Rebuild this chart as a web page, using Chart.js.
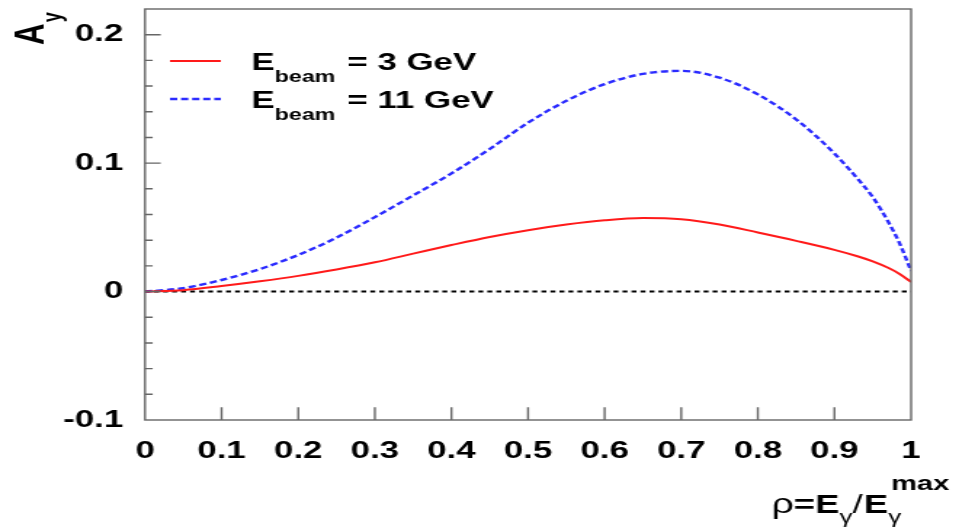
<!doctype html>
<html>
<head>
<title>Beam asymmetry A_y</title>
<script src="https://cdn.jsdelivr.net/npm/chart.js@4.4.0/dist/chart.umd.min.js"></script>
<style>
body { margin: 0; background: #fff; }
#plot { display: block; }
</style>
</head>
<body>
<!-- the original plot is stretched sideways, so the canvas is drawn narrow and widened by css -->
<canvas id="plot" width="660" height="529" style="width:959px;height:529px"></canvas>
<script>

// rho = E_gamma / E_gamma^max
var rho       = [0, 0.05, 0.1, 0.15, 0.2, 0.25, 0.3, 0.35, 0.4, 0.45, 0.5, 0.55, 0.6, 0.65, 0.7, 0.75, 0.8, 0.85, 0.9, 0.93, 0.95, 0.97, 0.985, 1];
var asym3GeV  = [0, 0.0011, 0.0043, 0.008, 0.0122, 0.0172, 0.0228, 0.0295, 0.0362, 0.0425, 0.0478, 0.0522, 0.0555, 0.0572, 0.0563, 0.0522, 0.046, 0.0395, 0.0325, 0.0275, 0.0235, 0.0185, 0.0137, 0.0075];
var asym11GeV = [0, 0.0027, 0.009, 0.0175, 0.0285, 0.042, 0.058, 0.0748, 0.092, 0.111, 0.1315, 0.1485, 0.1615, 0.1695, 0.1718, 0.1665, 0.1535, 0.134, 0.1075, 0.088, 0.0735, 0.0545, 0.0375, 0.016];
var zeroRho   = [0, 1];
var zeroLine  = [0, 0];
var beamLabels = ['3 GeV', '11 GeV'];

var FONT = '"Liberation Sans", Arial, sans-serif';

function points(xs, ys) {
  return xs.map(function(x, i) { return { x: x, y: ys[i] }; });
}

function isMajor(v) {
  return Math.abs(v * 10 - Math.round(v * 10)) < 1e-6;
}

// ROOT style frame, inward ticks, legend and axis titles
var rootFrame = {
  id: 'rootFrame',
  afterDraw: function(chart) {
    var c = chart.ctx, a = chart.chartArea;
    var xs = chart.scales.x, ys = chart.scales.y;
    c.save();
    c.strokeStyle = '#666';
    c.lineWidth = 1.4;
    c.strokeRect(a.left, a.top, a.right - a.left, a.bottom - a.top);

    c.beginPath();
    ys.ticks.forEach(function(t) {
      var py = ys.getPixelForValue(t.value);
      if (py < a.top + 2 || py > a.bottom - 2) return;
      c.moveTo(a.left, py);
      c.lineTo(a.left + (isMajor(t.value) ? 10.8 : 5.3), py);
    });
    xs.ticks.forEach(function(t) {
      var px = xs.getPixelForValue(t.value);
      if (px < a.left + 2 || px > a.right - 2) return;
      c.moveTo(px, a.bottom);
      c.lineTo(px, a.bottom - 12.7);
    });
    c.stroke();

    // legend
    var ds = chart.data.datasets;
    [61, 99].forEach(function(ly, i) {
      c.save();
      c.strokeStyle = ds[i].borderColor;
      c.lineWidth = ds[i].borderWidth;
      c.setLineDash(ds[i].borderDash || []);
      c.beginPath();
      c.moveTo(117, ly);
      c.lineTo(152, ly);
      c.stroke();
      c.restore();

      c.fillStyle = '#000';
      c.textAlign = 'left';
      c.textBaseline = 'alphabetic';
      c.font = 'bold 24px ' + FONT;
      c.fillText('E', 173, ly + 9);
      c.font = 'bold 16px ' + FONT;
      c.fillText('beam', 189, ly + 21);
      c.font = 'bold 24px ' + FONT;
      c.fillText('= ' + beamLabels[i], 239, ly + 9);
    });

    // x title: rho = E_gamma / E_gamma^max
    var x0 = 531, base = 513;
    c.fillStyle = '#000';
    c.font = '27px ' + FONT;
    c.fillText('ρ', x0, base);
    x0 += c.measureText('ρ').width;
    c.font = 'bold 25px ' + FONT;
    c.fillText('=E', x0, base);
    x0 += c.measureText('=E').width;
    c.font = '18px ' + FONT;
    c.fillText('γ', x0, base + 10);
    x0 += c.measureText('γ').width;
    c.font = '25px ' + FONT;
    c.fillText('/', x0, base);
    x0 += c.measureText('/').width + 1;
    c.font = 'bold 25px ' + FONT;
    c.fillText('E', x0, base);
    x0 += c.measureText('E').width;
    c.font = '18px ' + FONT;
    c.fillText('γ', x0, base + 10);
    c.font = 'bold 20px ' + FONT;
    c.fillText('max', x0 + 2, base - 23);

    // y title: A_y, rotated
    c.translate(30, 45);
    c.rotate(-Math.PI / 2);
    c.font = 'bold 30px ' + FONT;
    c.fillText('A', 0, 0);
    var aw = c.measureText('A').width;
    c.font = 'bold 18px ' + FONT;
    c.fillText('y', aw + 1, 12);
    c.restore();
  }
};

new Chart(document.getElementById('plot'), {
  type: 'line',
  data: {
    datasets: [
      {
        label: 'E_beam = 3 GeV',
        data: points(rho, asym3GeV),
        borderColor: '#ff1a1a',
        borderWidth: 2,
        pointRadius: 0,
        cubicInterpolationMode: 'monotone'
      },
      {
        label: 'E_beam = 11 GeV',
        data: points(rho, asym11GeV),
        borderColor: '#2b2bff',
        borderWidth: 2.4,
        borderDash: [5, 2.6],
        pointRadius: 0,
        cubicInterpolationMode: 'monotone'
      },
      {
        label: 'zero',
        data: points(zeroRho, zeroLine),
        borderColor: '#000',
        borderWidth: 2,
        borderDash: [3.4, 2.8],
        pointRadius: 0
      }
    ]
  },
  options: {
    responsive: false,
    devicePixelRatio: 1,
    animation: false,
    layout: { padding: { left: 0, top: 9, right: 33, bottom: 0 } },
    plugins: {
      legend: { display: false },
      tooltip: { enabled: false }
    },
    scales: {
      x: {
        type: 'linear',
        min: 0,
        max: 1,
        grid: { display: false, drawTicks: false },
        border: { display: false },
        ticks: {
          stepSize: 0.1,
          padding: 17,
          autoSkip: false,
          maxRotation: 0,
          color: '#000',
          font: { family: FONT, size: 24, weight: 'bold' },
          callback: function(value) {
            var v = Math.round(value * 10) / 10;
            return (v === 0 || v === 1) ? String(v) : v.toFixed(1);
          }
        },
        afterFit: function(s) {
          s.height = 109;
          s.paddingLeft = 0;
          s.paddingRight = 0;
        }
      },
      y: {
        min: -0.1,
        max: 0.22,
        grid: { display: false, drawTicks: false },
        border: { display: false },
        ticks: {
          stepSize: 0.02,
          padding: 15,
          autoSkip: false,
          color: '#000',
          font: { family: FONT, size: 24, weight: 'bold' },
          callback: function(value) {
            if (!isMajor(value)) return '';
            var v = Math.round(value * 10) / 10;
            return v === 0 ? '0' : String(v);
          }
        },
        afterFit: function(s) {
          s.width = 99.8;
          s.paddingTop = 0;
          s.paddingBottom = 0;
        }
      }
    }
  },
  plugins: [rootFrame]
});

</script>
</body>
</html>
